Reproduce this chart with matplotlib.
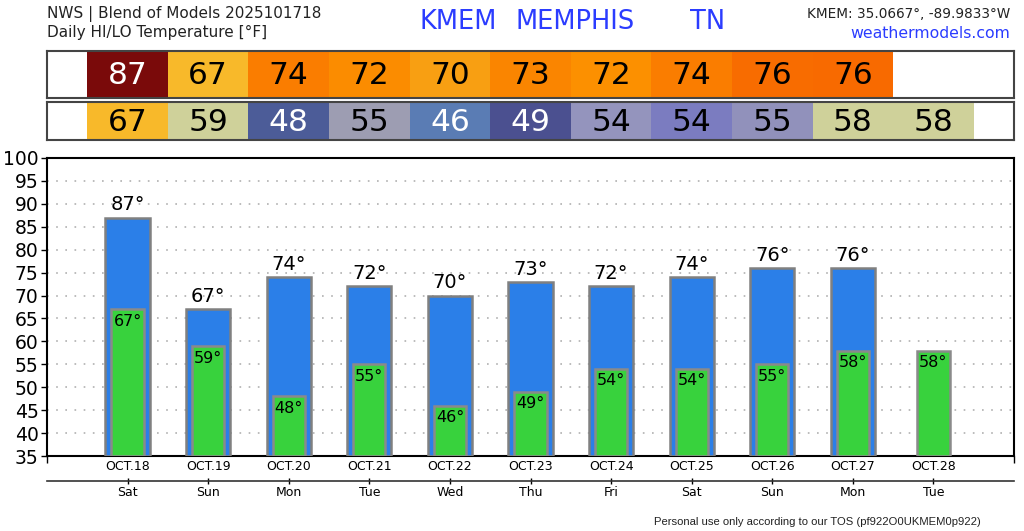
import matplotlib
matplotlib.use("Agg")
import matplotlib.pyplot as plt
from matplotlib.ticker import FixedLocator

dates = ["OCT.18", "OCT.19", "OCT.20", "OCT.21", "OCT.22", "OCT.23",
         "OCT.24", "OCT.25", "OCT.26", "OCT.27", "OCT.28"]
days = ["Sat", "Sun", "Mon", "Tue", "Wed", "Thu", "Fri", "Sat", "Sun", "Mon", "Tue"]
hi = [87, 67, 74, 72, 70, 73, 72, 74, 76, 76]
lo = [67, 59, 48, 55, 46, 49, 54, 54, 55, 58, 58]
hi_colors = ["#7a0a0a", "#f8b92a", "#fa7d00", "#fb8c00", "#f89f12", "#fa8500",
             "#fc9000", "#fa7d00", "#f86c00", "#f86a00"]
hi_text = ["white"] + ["black"] * 9
lo_colors = ["#f8b92a", "#cfd19a", "#4c5c98", "#9d9db2", "#5a7cb4", "#4b5090",
             "#9494bd", "#7b7cc0", "#9191bb", "#cfd19a", "#cfd19a"]
lo_text = ["black", "black", "white", "black", "white", "white",
           "black", "black", "black", "black", "black"]

W, H = 1024, 531
fig = plt.figure(figsize=(W / 100, H / 100), dpi=100)

def fx(px):
    return px / W

def fy(py):
    return 1 - py / H

left, right = 47, 1014
XL = (-1, 11)

# header rows
def header_row(top, bottom, vals, cols, tcols, fs):
    a = fig.add_axes([fx(left), fy(bottom), fx(right - left), (bottom - top) / H])
    a.set_xlim(*XL)
    a.set_ylim(0, 1)
    xs = list(range(len(vals)))
    a.bar(xs, [1] * len(vals), width=1.0, bottom=0, color=cols, edgecolor="none")
    for x, v, tc in zip(xs, vals, tcols):
        a.text(x, 0.47, str(v), ha="center", va="center", fontsize=fs, color=tc)
    a.set_xticks([])
    a.set_yticks([])
    for s in a.spines.values():
        s.set_color("#444444")
        s.set_linewidth(1.5)
    return a

header_row(51, 98, hi, hi_colors, hi_text, 22.5)
header_row(102, 140, lo, lo_colors, lo_text, 22.5)

# main axes
ax = fig.add_axes([fx(left), fy(456), fx(right - left), (456 - 158) / H])
ax.set_xlim(*XL)
ax.set_ylim(35, 100)
xs_hi = list(range(len(hi)))
xs_lo = list(range(len(lo)))
ax.bar(xs_hi, [h - 35 for h in hi], bottom=35, width=0.55, color="#2b7fe8",
       edgecolor="#808080", linewidth=1.8, zorder=3)
ax.bar(xs_lo, [l - 35 for l in lo], bottom=35, width=0.40, color="#38d23d",
       edgecolor="#8a8a8a", linewidth=1.8, zorder=4)
for x, h in zip(xs_hi, hi):
    ax.text(x, h + 0.7, f"{h}°", ha="center", va="bottom", fontsize=14, zorder=5)
for x, l in zip(xs_lo, lo):
    ax.text(x, l - 1.0, f"{l}°", ha="center", va="top", fontsize=11.5, zorder=5)

ax.set_yticks(range(35, 101, 5))
ax.tick_params(axis="y", labelsize=13.5, length=4, width=1, pad=2)
ax.yaxis.grid(True, linestyle=(0, (1, 4.5)), color="#b0b0b0", linewidth=1.2)
ax.set_axisbelow(True)
ax.set_xticks(xs_lo)
ax.set_xticklabels(dates, fontsize=9)
ax.tick_params(axis="x", length=0, pad=3)
ax.xaxis.set_minor_locator(FixedLocator([XL[0], XL[1]]))
ax.tick_params(axis="x", which="minor", length=5, width=1)
for s in ax.spines.values():
    s.set_color("black")
    s.set_linewidth(1.5)

sec = ax.secondary_xaxis((456 - 481) / 298)
sec.set_xticks(xs_lo)
sec.set_xticklabels(days, fontsize=9)
sec.tick_params(axis="x", length=5, direction="inout", width=1, pad=1)
sec.spines["bottom"].set_color("#333333")
sec.spines["bottom"].set_linewidth(1.2)

# header texts
fig.text(fx(47), fy(14), "NWS | Blend of Models 2025101718", fontsize=11,
         va="center", ha="left", color="#222222")
fig.text(fx(47), fy(32), "Daily HI/LO Temperature [°F]", fontsize=11,
         va="center", ha="left", color="#222222")
blue = "#2b3cff"
fig.text(fx(420), fy(22), "KMEM", fontsize=18.5, color=blue, va="center", ha="left")
fig.text(fx(516), fy(22), "MEMPHIS", fontsize=18.5, color=blue, va="center", ha="left")
fig.text(fx(690), fy(22), "TN", fontsize=18.5, color=blue, va="center", ha="left")
fig.text(fx(1010), fy(14), "KMEM: 35.0667°, -89.9833°W", fontsize=9.8,
         va="center", ha="right", color="#222222")
fig.text(fx(1010), fy(33), "weathermodels.com", fontsize=11.3, color=blue,
         va="center", ha="right")
fig.text(fx(817), fy(522), "Personal use only according to our TOS (pf922O0UKMEM0p922)",
         fontsize=8.1, family="Liberation Sans", va="center", ha="center", color="#222222")

fig.savefig("out.png", dpi=100)
